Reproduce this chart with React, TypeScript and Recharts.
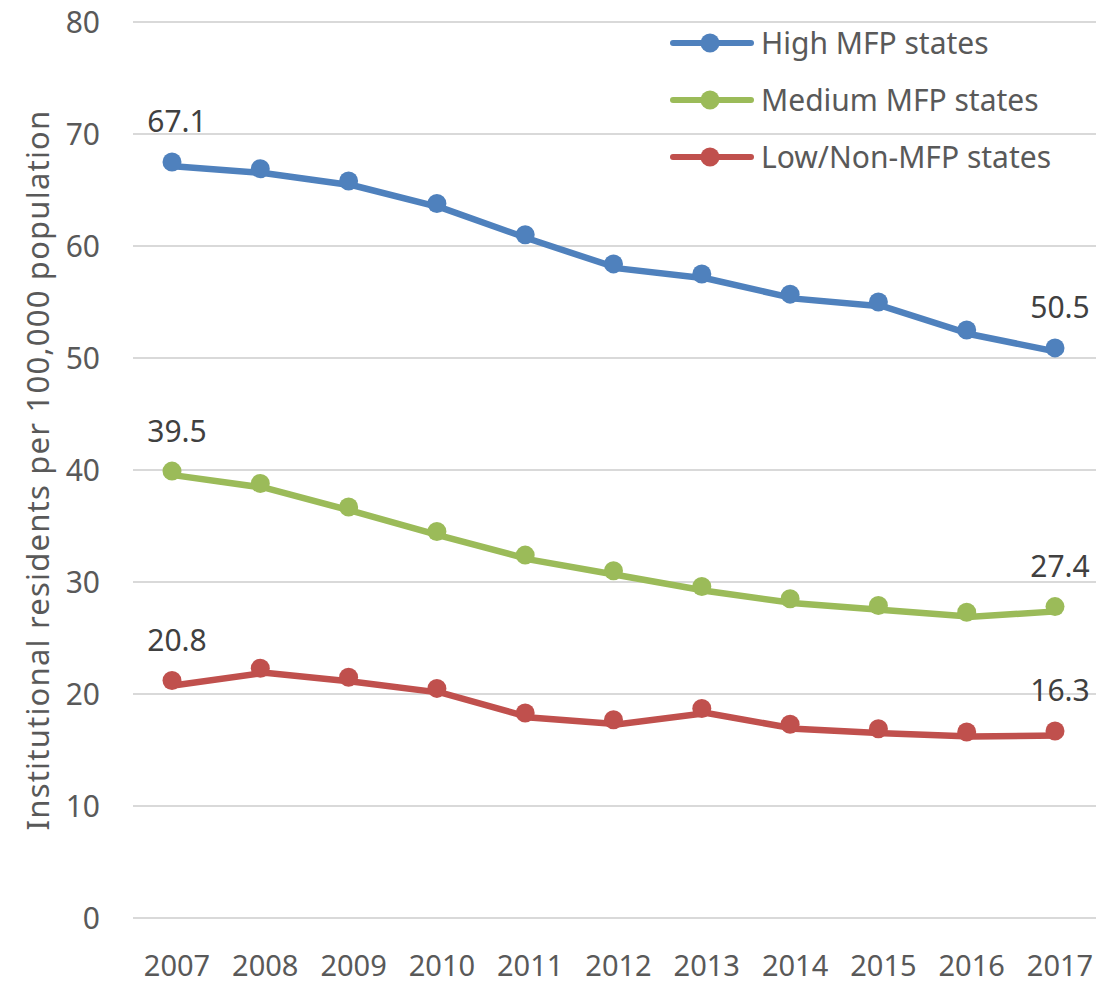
import React from 'react';
import { LineChart, Line, XAxis, YAxis, CartesianGrid, LabelList } from 'recharts';

const years = ['2007', '2008', '2009', '2010', '2011', '2012', '2013', '2014', '2015', '2016', '2017'];
const highMFP = [67.1, 66.5, 65.4, 63.4, 60.6, 58.0, 57.1, 55.3, 54.6, 52.1, 50.5];
const mediumMFP = [39.5, 38.4, 36.3, 34.1, 32.0, 30.6, 29.2, 28.1, 27.5, 26.9, 27.4];
const lowMFP = [20.8, 21.9, 21.1, 20.1, 17.9, 17.3, 18.3, 16.9, 16.5, 16.2, 16.3];
const yTicks = [0, 10, 20, 30, 40, 50, 60, 70, 80];
const seriesKeys = ['high', 'medium', 'low'];
const seriesNames = ['High MFP states', 'Medium MFP states', 'Low/Non-MFP states'];
const seriesColors = ['#4F81BD', '#9BBB59', '#C0504D'];
const yTitle = 'Institutional residents per 100,000 population';

const data = years.map((year, i) => ({
  year,
  high: highMFP[i],
  medium: mediumMFP[i],
  low: lowMFP[i],
}));

const FONT = '"Noto Sans", "Open Sans", sans-serif';

const makeDot = (color: string) => (props: any) => {
  const { cx, cy, index } = props;
  if (cx == null || cy == null) return <g key={index} />;
  return <circle key={index} cx={cx - 5} cy={cy - 4.5} r={9.5} fill={color} />;
};

const EndLabel = (props: any) => {
  const { x, y, value, index } = props;
  if (index !== 0 && index !== years.length - 1) return null;
  return (
    <text x={x} y={y - 34} textAnchor="middle" fontSize={30} fill="#404040" fontFamily={FONT}>
      {Number(value).toFixed(1)}
    </text>
  );
};

export default function App() {
  return (
    <div style={{ position: 'absolute', left: 0, top: 0, width: 1096, height: 984, background: '#fff' }}>
      <LineChart width={1096} height={984} data={data} margin={{ top: 22, right: 0, bottom: 0, left: 0 }}>
        <CartesianGrid horizontal vertical={false} stroke="#D9D9D9" strokeWidth={2} />
        <XAxis
          dataKey="year"
          axisLine={false}
          tickLine={false}
          interval={0}
          padding={{ left: 44, right: 36 }}
          height={66}
          tickMargin={31}
          tick={{ fontSize: 29, fill: '#595959', fontFamily: FONT }}
        />
        <YAxis
          domain={[0, 80]}
          ticks={yTicks}
          width={133}
          axisLine={false}
          tickLine={false}
          tickMargin={27}
          tick={{ fontSize: 30, fill: '#595959', fontFamily: FONT }}
        />
        {seriesKeys.map((k, i) => (
          <Line
            key={k}
            dataKey={k}
            name={seriesNames[i]}
            stroke={seriesColors[i]}
            strokeWidth={6.5}
            dot={makeDot(seriesColors[i])}
            activeDot={false}
            isAnimationActive={false}
          >
            <LabelList dataKey={k} content={EndLabel} />
          </Line>
        ))}
      </LineChart>
      <svg width={80} height={984} style={{ position: 'absolute', left: 0, top: 0 }}>
        <text
          x={37}
          y={470}
          transform="rotate(-90 37 470)"
          textAnchor="middle"
          dominantBaseline="central"
          fontSize={31}
          letterSpacing={1.2}
          fill="#595959"
          fontFamily={FONT}
        >
          {yTitle}
        </text>
      </svg>
      <svg width={436} height={190} style={{ position: 'absolute', left: 660, top: 13 }}>
        {seriesNames.map((name, i) => {
          const cy = 30 + i * 57;
          return (
            <g key={name}>
              <line x1={13} x2={91} y1={cy} y2={cy} stroke={seriesColors[i]} strokeWidth={6} strokeLinecap="round" />
              <circle cx={50} cy={cy} r={9.5} fill={seriesColors[i]} />
              <text x={101} y={cy + 11} fontSize={30} fill="#595959" fontFamily={FONT}>
                {name}
              </text>
            </g>
          );
        })}
      </svg>
    </div>
  );
}
